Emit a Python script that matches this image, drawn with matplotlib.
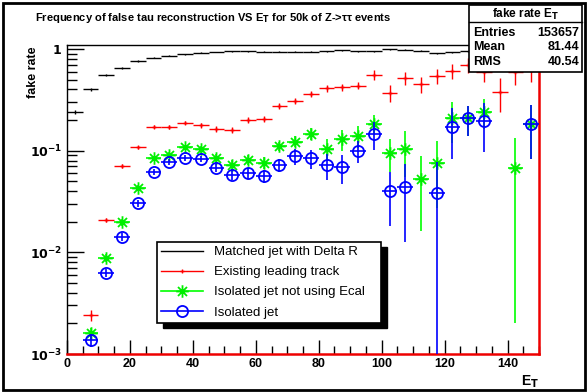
import numpy as np
import matplotlib
matplotlib.use("Agg")
import matplotlib.pyplot as plt
from matplotlib.path import Path
from matplotlib.patches import Rectangle
from matplotlib.ticker import FixedLocator, FixedFormatter, MultipleLocator, NullFormatter

plt.rcParams['font.family'] = ['Liberation Sans', 'DejaVu Sans']

# bin centres, 5 GeV bins from 0 to 150
et = np.arange(2.5, 150, 5.0)
half_bin = 2.5

matched = [0.24, 0.40, 0.555, 0.655, 0.76, 0.82, 0.86, 0.89, 0.92, 0.935,
           0.955, 0.955, 0.94, 0.94, 0.94, 0.94, 0.95, 0.975, 0.955, 0.955,
           0.99, 0.985, 0.96, 0.91, 0.93, 0.95, 0.95, 0.95, 0.95, 0.95]
matched_err = [0.01, 0.01, 0.012, 0.012, 0.012, 0.012, 0.01, 0.01, 0.01, 0.01,
               0.01, 0.01, 0.01, 0.01, 0.01, 0.01, 0.01, 0.01, 0.01, 0.01,
               0.01, 0.012, 0.012, 0.012, 0.012, 0.015, 0.015, 0.015, 0.015, 0.015]

lead_et = et[1:]
lead = [0.00243, 0.0208, 0.0708, 0.108, 0.172, 0.172, 0.189, 0.178, 0.163,
        0.160, 0.20, 0.205, 0.275, 0.31, 0.359, 0.41, 0.42, 0.435, 0.555,
        0.372, 0.52, 0.45, 0.54, 0.61, 0.70, 0.59, 0.38, 0.59, 0.62]
lead_err = [0.0003, 0.001, 0.003, 0.004, 0.006, 0.007, 0.008, 0.009, 0.01,
            0.011, 0.013, 0.015, 0.018, 0.02, 0.025, 0.03, 0.03, 0.035, 0.06,
            0.07, 0.08, 0.08, 0.09, 0.1, 0.12, 0.12, 0.14, 0.15, 0.15]

noecal_et = np.concatenate([et[1:27], et[28:]])
noecal = [0.00162, 0.00875, 0.0198, 0.0427, 0.084, 0.0907, 0.108, 0.103,
          0.084, 0.0723, 0.081, 0.076, 0.111, 0.123, 0.146, 0.105, 0.129,
          0.14, 0.183, 0.0957, 0.105, 0.0523, 0.076, 0.208, 0.208, 0.242,
          0.067, 0.182]
noecal_err = [0.0002, 0.0008, 0.0015, 0.003, 0.005, 0.006, 0.007, 0.008,
              0.008, 0.008, 0.009, 0.01, 0.012, 0.015, 0.02, 0.025, 0.03,
              0.033, 0.04, 0.034, 0.05, 0.036, 0.049, 0.09, 0.07, 0.08,
              0.065, 0.1]

iso_et = np.concatenate([et[1:22], et[23:27], et[29:]])
iso = [0.00138, 0.0063, 0.01426, 0.0304, 0.062, 0.078, 0.085, 0.083, 0.068,
       0.058, 0.060, 0.056, 0.072, 0.088, 0.084, 0.072, 0.0686, 0.100,
       0.146, 0.040, 0.0437, 0.038, 0.172, 0.208, 0.197, 0.183]
iso_err = [0.0002, 0.0006, 0.0012, 0.0025, 0.004, 0.005, 0.006, 0.006,
           0.006, 0.006, 0.007, 0.008, 0.01, 0.015, 0.018, 0.02, 0.022,
           0.025, 0.045, 0.022, 0.031, 0.04, 0.09, 0.07, 0.1, 0.1]

stats = [("Entries", "153657"), ("Mean", "81.44"), ("RMS", "40.54")]

W, H = 588, 392
fig = plt.figure(figsize=(W / 100, H / 100), dpi=100)


def fx(px):
    return px / W


def fy(py):
    return 1 - py / H


ax = fig.add_axes([fx(67), fy(354), fx(539) - fx(67), fy(45) - fy(354)])
ax.set_yscale('log')
ax.set_xlim(0, 150)
ax.set_ylim(1e-3, 1.095)

# ROOT style asterisk marker
star = Path([(-1, 0), (1, 0), (0, -1), (0, 1), (-0.72, -0.72), (0.72, 0.72),
             (-0.72, 0.72), (0.72, -0.72)],
            [Path.MOVETO, Path.LINETO] * 4)

ax.errorbar(et, matched, xerr=half_bin, yerr=matched_err, fmt='none',
            ecolor='black', elinewidth=1.0, capsize=0)
ax.errorbar(lead_et, lead, xerr=half_bin, yerr=lead_err, fmt='+',
            color='#ff0000', ms=3, mew=1.0, elinewidth=1.0, capsize=0)
ax.errorbar(noecal_et, noecal, xerr=half_bin, yerr=noecal_err,
            fmt='none', ecolor='#00ff00', elinewidth=1.2, capsize=0)
ax.plot(noecal_et, noecal, ls='none', marker=star, ms=9, mew=1.3,
        color='#00ee00', mfc='none', zorder=3)
ax.errorbar(iso_et, iso, xerr=half_bin, yerr=iso_err, fmt='o',
            color='#0000ff', mfc='none', ms=8, mew=1.3,
            elinewidth=1.2, capsize=0, zorder=4)

# axis cosmetics
ax.xaxis.set_major_locator(MultipleLocator(20))
ax.xaxis.set_minor_locator(MultipleLocator(5))
ax.yaxis.set_major_locator(FixedLocator([1e-3, 1e-2, 1e-1, 1]))
ax.yaxis.set_major_formatter(FixedFormatter([r'$\mathbf{10^{-3}}$', r'$\mathbf{10^{-2}}$',
                                             r'$\mathbf{10^{-1}}$', r'$\mathbf{1}$']))
minors = [m * 10.0 ** e for e in (-3, -2, -1) for m in range(2, 10)]
ax.yaxis.set_minor_locator(FixedLocator(minors))
ax.yaxis.set_minor_formatter(NullFormatter())
ax.tick_params(which='both', direction='in', top=False, right=False,
               labelsize=9, width=1.0)
ax.tick_params(which='major', length=12)
ax.tick_params(which='minor', length=7)
ax.tick_params(axis='x', which='minor', length=6)
ax.tick_params(axis='x', which='major', length=10, pad=3)
for lab in ax.get_xticklabels():
    lab.set_fontweight('bold')
for s in ('left', 'top'):
    ax.spines[s].set_linewidth(1.0)
for s in ('bottom', 'right'):
    ax.spines[s].set_color('#ee0000')
    ax.spines[s].set_linewidth(1.8)

fig.text(fx(213), fy(18), r"Frequency of false tau reconstruction VS E$_\mathbf{T}$ for 50k of Z->ττ events",
         ha='center', va='center', fontsize=8, fontweight='bold')
fig.text(fx(33), fy(46), "fake rate", rotation=90, ha='center', va='top',
         fontsize=9, fontweight='bold')
fig.text(fx(539), fy(382), r"E$_\mathbf{T}$", ha='right', va='center',
         fontsize=10, fontweight='bold')

# legend
leg_handles = [
    plt.Line2D([], [], color='black', lw=1.0),
    plt.Line2D([], [], color='#ff0000', lw=1.0, marker='+', ms=3),
    plt.Line2D([], [], color='#00ff00', lw=1.2, marker=star, ms=9, mew=1.3,
               mec='#00ee00', mfc='none'),
    plt.Line2D([], [], color='#0000ff', lw=1.2, marker='o', ms=8, mew=1.3, mfc='none'),
]
leg_labels = ["Matched jet with Delta R", "Existing leading track",
              "Isolated jet not using Ecal", "Isolated jet"]
leg = fig.legend(leg_handles, leg_labels, loc='upper left',
                 bbox_to_anchor=(fx(157), fy(242), fx(381) - fx(157), 0),
                 mode='expand', fontsize=9.5, frameon=True, fancybox=False,
                 edgecolor='black', framealpha=1, borderpad=0.3, labelspacing=0.6,
                 handlelength=3.2, handletextpad=0.8, borderaxespad=0)
leg.get_frame().set_linewidth(1.2)
leg.set_zorder(6)

# black drop shadow under the legend box
fig.canvas.draw()
lb = leg.get_frame().get_window_extent().transformed(fig.transFigure.inverted())
fig.patches.append(Rectangle((lb.x0 + fx(6), lb.y0 - (fy(0) - fy(5))),
                             lb.width, lb.height, transform=fig.transFigure,
                             facecolor='black', edgecolor='black', zorder=5))

# statistics box
bx0, bx1, by0, by1 = 469, 582, 5, 72
fig.patches.append(Rectangle((fx(bx0), fy(by1)), fx(bx1) - fx(bx0), fy(by0) - fy(by1),
                             transform=fig.transFigure, facecolor='white',
                             edgecolor='black', lw=1.2, zorder=7))
fig.lines.append(plt.Line2D([fx(bx0), fx(bx1)], [fy(22), fy(22)],
                            transform=fig.transFigure, color='black', lw=1.0, zorder=8))
fig.text(fx((bx0 + bx1) / 2), fy(14), r"fake rate E$_\mathbf{T}$", ha='center',
         va='center', fontsize=8.5, fontweight='bold', zorder=9)
for i, (name, val) in enumerate(stats):
    yy = fy(33 + 14.5 * i)
    fig.text(fx(bx0 + 4), yy, name, ha='left', va='center', fontsize=9,
             fontweight='bold', zorder=9)
    fig.text(fx(bx1 - 3), yy, val, ha='right', va='center', fontsize=9,
             fontweight='bold', zorder=9)

# canvas frame
fig.patches.append(Rectangle((fx(3), fy(390)), fx(585) - fx(3), fy(3) - fy(390),
                             transform=fig.transFigure, facecolor='none',
                             edgecolor='black', lw=2.0, zorder=10))

fig.savefig("out.png", dpi=100)
